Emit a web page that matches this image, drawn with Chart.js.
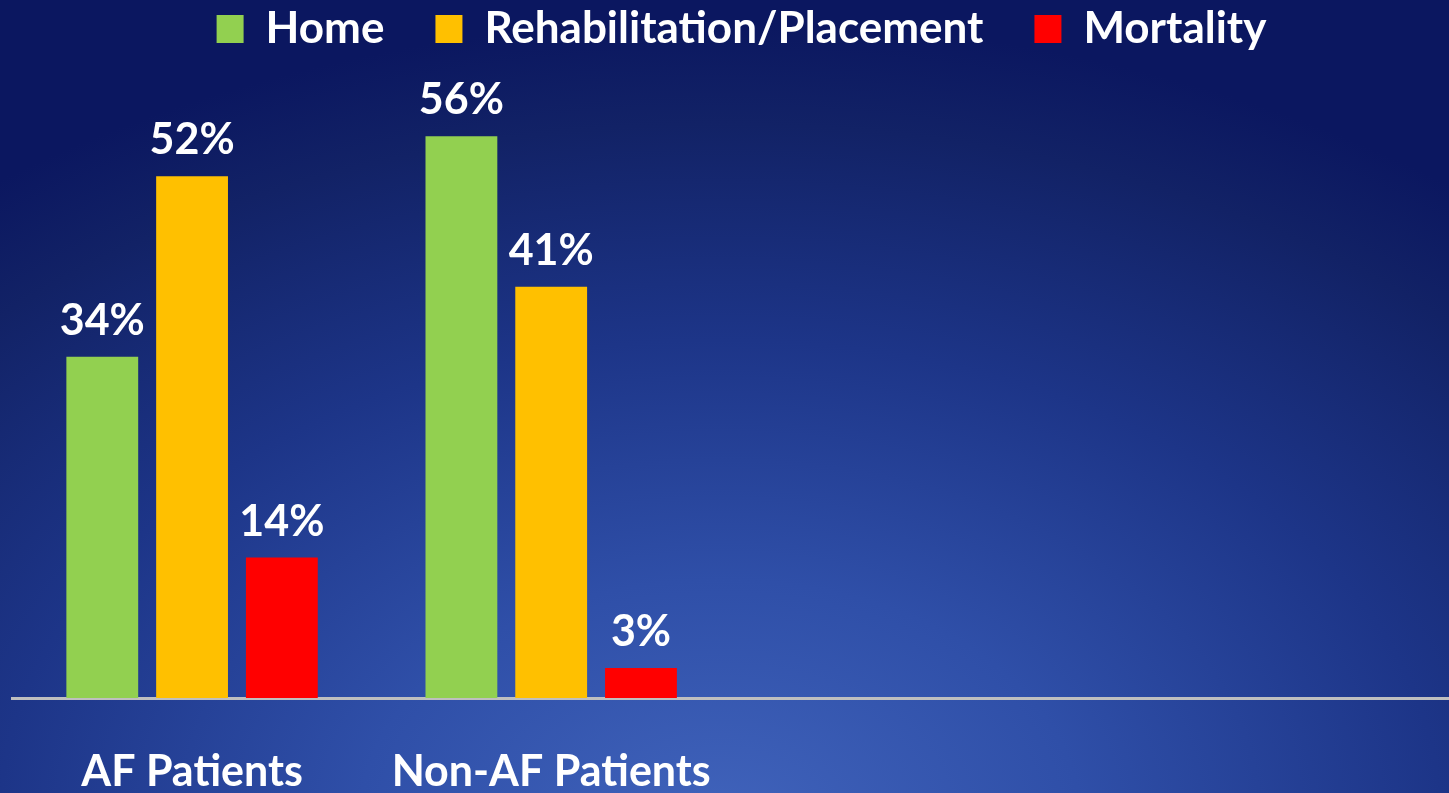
<!DOCTYPE html>
<html><head><meta charset="utf-8">
<script src="https://cdn.jsdelivr.net/npm/chart.js@4.4.1/dist/chart.umd.min.js"></script>
<style>
html,body{margin:0;padding:0;width:1449px;height:793px;overflow:hidden;}
body{background: radial-gradient(ellipse 1200px 800px at 720px 820px, #4063bb 0%, #2f4fa8 30%, #1d3588 60%, #122266 87%, #0b1760 100%);}
#wrap{position:relative;width:1449px;height:793px;}
</style></head>
<body><div id="wrap"><canvas id="c" width="1449" height="793"></canvas></div>
<script>
const categories = ["AF Patients", "Non-AF Patients", "", ""];
const seriesNames = ["Home", "Rehabilitation/Placement", "Mortality"];
const homeValues = [34, 56, null, null];
const rehabValues = [52, 41, null, null];
const mortalityValues = [14, 3, null, null];
const seriesColors = ["#92d050", "#ffc000", "#ff0000"];

const FONT = 'Lato';

const valueLabels = {
  id: 'valueLabels',
  afterDatasetsDraw(chart) {
    const ctx = chart.ctx;
    ctx.save();
    ctx.fillStyle = '#ffffff';
    ctx.font = 'bold 43px ' + FONT;
    ctx.textAlign = 'center';
    ctx.textBaseline = 'alphabetic';
    chart.data.datasets.forEach((ds, i) => {
      const meta = chart.getDatasetMeta(i);
      meta.data.forEach((el, j) => {
        const v = ds.data[j];
        if (v === null || v === undefined) return;
        ctx.fillText(v + '%', el.x, el.y - 22);
      });
    });
    ctx.restore();
  }
};

const legendShift = {
  id: 'legendShift',
  afterLayout(chart) {
    const l = chart.legend;
    const dy = -44 - l.top;
    const dx = 8;
    l.top += dy;
    l.left += dx; l.right += dx;
  }
};

new Chart(document.getElementById('c'), {
  type: 'bar',
  data: {
    labels: categories,
    datasets: [
      { label: seriesNames[0], data: homeValues, backgroundColor: seriesColors[0], borderWidth: 0 },
      { label: seriesNames[1], data: rehabValues, backgroundColor: seriesColors[1], borderWidth: 0 },
      { label: seriesNames[2], data: mortalityValues, backgroundColor: seriesColors[2], borderWidth: 0 }
    ]
  },
  options: {
    responsive: false,
    animation: false,
    datasets: { bar: { categoryPercentage: 0.75, barPercentage: 0.8 } },
    layout: { padding: { left: 12.5, right: -5.5, top: 0, bottom: -54 } },
    plugins: {
      legend: {
        position: 'top',
        maxHeight: 96,
        labels: {
          color: '#ffffff',
          font: { family: FONT, weight: 'bold', size: 44 },
          boxWidth: 27,
          boxHeight: 28,
          padding: 51
        }
      },
      tooltip: { enabled: false }
    },
    scales: {
      x: {
        grid: { display: false, drawTicks: false },
        border: { display: true, color: '#bfbfbf', width: 3 },
        ticks: {
          color: '#ffffff',
          font: { family: FONT, weight: 'bold', size: 43, lineHeight: 1 },
          padding: 53,
          maxRotation: 0,
          autoSkip: false
        }
      },
      y: { display: false, min: 0, max: 60 }
    }
  },
  plugins: [valueLabels, legendShift]
});
</script>
</body></html>
